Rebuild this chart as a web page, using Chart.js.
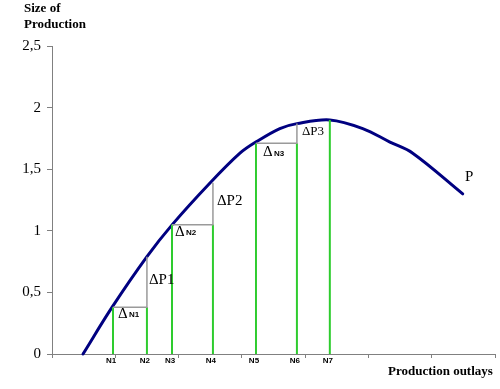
<!DOCTYPE html>
<html>
<head>
<meta charset="utf-8">
<script src="https://cdn.jsdelivr.net/npm/chart.js@4/dist/chart.umd.min.js"></script>
<style>
html,body{margin:0;padding:0;background:#fff;}
#wrap{width:500px;height:389px;position:relative;}
</style>
</head>
<body>
<div id="wrap"><canvas id="c" width="500" height="389"></canvas></div>
<script>
// Production curve P (x in axis units, y = size of production)
const curveX = [0.49, 0.95, 1.50, 1.90, 2.50, 2.97, 3.22, 3.60, 3.87, 4.39, 4.91, 5.34, 5.70, 6.49];
const curveY = [0.00, 0.38, 0.79, 1.05, 1.39, 1.63, 1.72, 1.83, 1.87, 1.90, 1.83, 1.72, 1.63, 1.30];
// Outlay levels N1..N7
const nLabels = ['N1', 'N2', 'N3', 'N4', 'N5', 'N6', 'N7'];
const nX = [0.964, 1.50, 1.896, 2.543, 3.223, 3.87, 4.39];
const greenTop = [0.38, 0.38, 1.05, 1.05, 1.71, 1.71, 1.90];
// Step tops (gray verticals at N2, N4, N6)
const stepTop = [0.79, 1.39, 1.87];
// Y tick labels
const yTicks = [0, 0.5, 1, 1.5, 2, 2.5];
const yTickLabels = ['0', '0,5', '1', '1,5', '2', '2,5'];

const datasets = [];
// gray steps
for (let i = 0; i < 3; i++) {
  const a = nX[2 * i], b = nX[2 * i + 1], h = greenTop[2 * i];
  datasets.push({
    data: [{x: a, y: h}, {x: b, y: h}, {x: b, y: stepTop[i]}],
    showLine: true, borderColor: '#9a9a9a', borderWidth: 1.5, pointRadius: 0, tension: 0, clip: false
  });
}
// green verticals
for (let i = 0; i < nX.length; i++) {
  datasets.push({
    data: [{x: nX[i], y: 0}, {x: nX[i], y: greenTop[i]}],
    showLine: true, borderColor: '#2ecc2e', borderWidth: 2, pointRadius: 0, tension: 0, clip: false
  });
}
// curve
datasets.push({
  data: curveX.map((x, i) => ({x: x, y: curveY[i]})),
  showLine: true, borderColor: '#000080', borderWidth: 3, pointRadius: 0,
  tension: 0.35, clip: false, borderCapStyle: 'round'
});

const annot = {
  id: 'annot',
  afterDatasetsDraw(chart) {
    const ctx = chart.ctx, xs = chart.scales.x, ys = chart.scales.y;
    ctx.save();
    ctx.fillStyle = '#000';
    ctx.textBaseline = 'middle';
    // titles
    ctx.font = 'bold 13px "Liberation Serif"';
    ctx.textAlign = 'left';
    ctx.fillText('Size of', 24, 9);
    ctx.fillText('Production', 24, 25);
    ctx.fillText('Production outlays', 388, 372);
    // N labels under axis
    ctx.font = 'bold 8px "Liberation Sans"';
    ctx.textAlign = 'center';
    nLabels.forEach((t, i) => ctx.fillText(t, xs.getPixelForValue(nX[i]) - 2, 361));
    // delta P labels
    const dP = (t, x, y, size) => {
      ctx.font = size + 'px "Liberation Serif"';
      ctx.textAlign = 'left';
      ctx.fillText(t, x, y);
    };
    const dN = (t, x, y) => {
      ctx.font = '15px "Liberation Serif"';
      ctx.textAlign = 'left';
      ctx.fillText('\u0394', x, y);
      ctx.font = 'bold 8px "Liberation Sans"';
      ctx.fillText(t, x + 11, y + 1);
    };
    const px = i => xs.getPixelForValue(nX[i]);
    const py = v => ys.getPixelForValue(v);
    dN('N1', px(0) + 5, py(greenTop[0]) + 7);
    dN('N2', px(2) + 3, py(greenTop[2]) + 7);
    dN('N3', px(4) + 7, py(greenTop[4]) + 9);
    dP('\u0394P1', px(1) + 2, 280, 15);
    dP('\u0394P2', px(3) + 4, 201, 15);
    dP('\u0394P3', px(5) + 5, py(stepTop[2]) + 8, 13);
    ctx.font = '15px "Liberation Serif"';
    ctx.fillText('P', 465, 177);
    ctx.restore();
  }
};

new Chart(document.getElementById('c'), {
  type: 'scatter',
  data: {datasets: datasets},
  options: {
    responsive: false,
    animation: false,
    events: [],
    layout: {padding: {top: 46, right: 5, left: 0, bottom: 0}},
    plugins: {legend: {display: false}, tooltip: {enabled: false}},
    scales: {
      x: {
        type: 'linear', min: 0, max: 7,
        afterFit(s) { s.height = 35; },
        ticks: {stepSize: 1, callback: () => '', autoSkip: false},
        grid: {drawOnChartArea: false, drawTicks: true, tickLength: 4, color: '#808080'},
        border: {color: '#808080', width: 1}
      },
      y: {
        type: 'linear', min: 0, max: 2.5,
        afterFit(s) { s.width = 52; },
        afterBuildTicks(s) { s.ticks = yTicks.map(v => ({value: v})); },
        ticks: {
          callback: (v) => yTickLabels[yTicks.indexOf(v)] ?? '',
          font: {family: '"Liberation Serif"', size: 15}, color: '#000', padding: 6
        },
        grid: {drawOnChartArea: false, drawTicks: true, tickLength: 5, color: '#808080'},
        border: {color: '#808080', width: 1}
      }
    }
  },
  plugins: [annot]
});
</script>
</body>
</html>
